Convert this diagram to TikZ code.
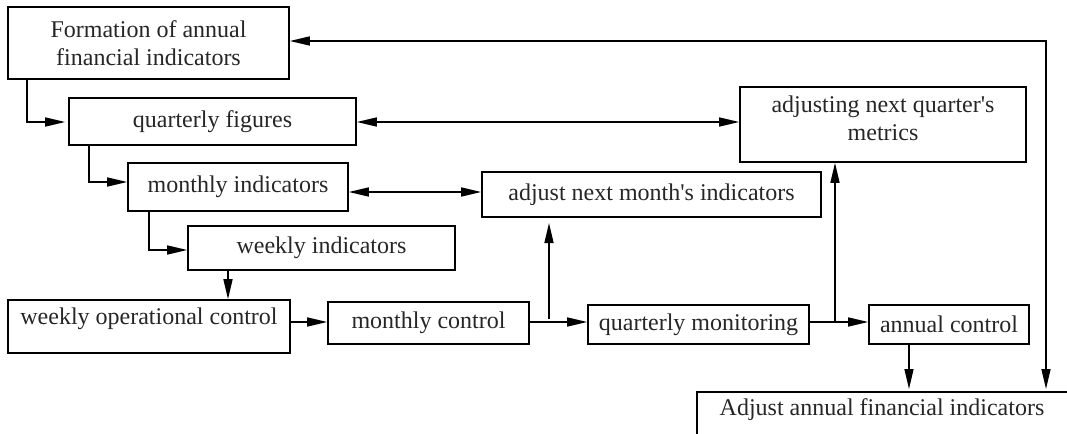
\documentclass[tikz,border=0pt]{standalone}
\usepackage{fontspec}
\setmainfont{Liberation Serif}
\usetikzlibrary{arrows.meta,calc}
\begin{document}
\begin{tikzpicture}[x=0.5pt,y=-0.5pt,
  font=\fontsize{12pt}{14pt}\selectfont,
  box/.style={draw=black,line width=0.8pt,rectangle,inner sep=0pt,align=center,text=black!85},
  conn/.style={line width=0.75pt,-{Triangle[length=10pt,width=4.5pt]}},
  dconn/.style={line width=0.75pt,{Triangle[length=10pt,width=4.5pt]}-{Triangle[length=10pt,width=4.5pt]}}]
\useasboundingbox (0,0) rectangle (1067,434);
% boxes
\node[box,minimum width=140.5pt,minimum height=36pt] (A) at (148.5,43) {Formation of annual\\financial indicators};
\node[box,minimum width=143.5pt,minimum height=23.5pt] (B) at (212.5,121.5) {quarterly figures};
\node[box,minimum width=110pt,minimum height=24pt] (C) at (238,187) {monthly indicators};
\node[box,minimum width=133.5pt,minimum height=22pt] (D) at (321.5,248) {weekly indicators};
\node[box,minimum width=141pt,minimum height=26.5pt,text depth=10pt] (E) at (149,326.5) {weekly operational control};
\node[box,minimum width=100.5pt,minimum height=21pt] (F) at (428.5,323) {monthly control};
\node[box,minimum width=110.5pt,minimum height=19.5pt] (G) at (698.5,324.5) {quarterly monitoring};
\node[box,minimum width=80pt,minimum height=19.5pt] (H) at (949,324.5) {annual control};
\node[box,minimum width=169.5pt,minimum height=22.5pt] (I) at (651.5,194.5) {adjust next month\textquotesingle s indicators};
\node[box,minimum width=143pt,minimum height=37.5pt,text depth=6pt] (J) at (883,124.5) {adjusting next quarter\textquotesingle s\\metrics};
% open box at bottom right
\node[text=black!85,inner sep=0pt] (K) at (882,410) {Adjust annual financial indicators};
\coordinate (Ktl) at (697,392);
\coordinate (Kbl) at (697,434);
\coordinate (Ktr) at (1067,392);
\draw[line width=0.8pt] (Kbl) -- (Ktl) -- (Ktr);
% helper coordinates
\coordinate (yB) at (0,122);
\coordinate (yC) at (0,182);
\coordinate (yM) at (0,192);
\coordinate (yD) at (0,250);
\coordinate (yL) at (0,322);
\coordinate (xA) at (27,0);
\coordinate (xB) at (89,0);
\coordinate (xC) at (149,0);
\coordinate (xD) at (228,0);
\coordinate (up1s) at (549,319);
\coordinate (up1e) at (549,223);
\coordinate (up2s) at (835,319);
\coordinate (kin1) at (909,389);
\coordinate (rtop) at (1046,41);
\coordinate (rbot) at (1046,389);
% connectors
\draw[conn] (A.south -| xA) -- (xA |- yB) -- ($(B.west |- yB)+(-3,0)$);
\draw[conn] (B.south -| xB) -- (xB |- yC) -- (C.west |- yC);
\draw[conn] (C.south -| xC) -- (xC |- yD) -- (D.west |- yD);
\draw[conn] (D.south -| xD) -- (E.north -| xD);
\draw[conn] (E.east |- yL) -- (F.west |- yL);
\draw[conn] (F.east |- yL) -- (G.west |- yL);
\draw[conn] (G.east |- yL) -- (H.west |- yL);
\draw[conn] (up1s) -- (up1e);
\draw[conn] (up2s |- yL) -- (J.south -| up2s);
\draw[conn] (H.south -| kin1) -- (kin1);
\draw[dconn] (B.east |- yB) -- (J.west |- yB);
\draw[dconn] (C.east |- yM) -- (I.west |- yM);
\draw[dconn] (A.east |- rtop) -- (rtop) -- (rbot);
\end{tikzpicture}
\end{document}
